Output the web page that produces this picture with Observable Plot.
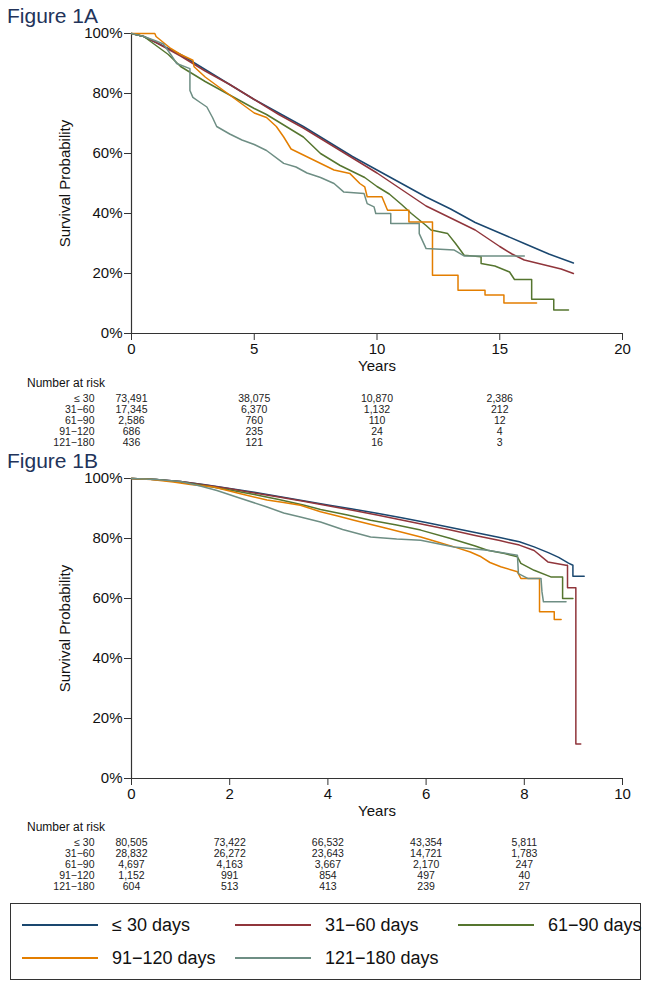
<!DOCTYPE html>
<html><head><meta charset="utf-8">
<script src="https://cdn.jsdelivr.net/npm/d3@7"></script>
<script src="https://cdn.jsdelivr.net/npm/@observablehq/plot@0.6"></script>
<style>
body{margin:0;background:#fff;font-family:"Liberation Sans",Arial,sans-serif;}
#root{position:relative;width:651px;height:989px;overflow:hidden;background:#fff;}
.abs{position:absolute;}
.title{font-size:21px;line-height:21px;color:#22335a;left:7px;white-space:nowrap;}
.nar{font-size:12px;line-height:12px;color:#111;left:27px;white-space:nowrap;}
.leg{position:absolute;display:flex;align-items:center;height:22px;font-size:18px;color:#111;white-space:nowrap;}
.leg svg{margin-right:14px;}
</style></head><body><div id="root"></div>
<script>
// ---------- data ----------
const groups = ["≤ 30 days", "31−60 days", "61−90 days", "91−120 days", "121−180 days"];
const riskLabels = ["≤ 30", "31−60", "61−90", "91−120", "121−180"];
const colors = ["#1a476f", "#90353b", "#55752f", "#e37e00", "#6e8e84"];
const yTicks = [0, 0.2, 0.4, 0.6, 0.8, 1];
const xTicksA = [0, 5, 10, 15, 20];
const xTicksB = [0, 2, 4, 6, 8, 10];

// Figure 1A survival curves [years, survival] (vertical drops given as repeated years)
const survA_le30 = [[0,1],[0.5,0.99],[1,0.97],[2,0.93],[3,0.88],[4,0.83],[5,0.78],[6,0.735],[7,0.69],[8,0.64],[9,0.59],[10,0.545],[11,0.5],[12,0.455],[13,0.415],[14,0.37],[15,0.335],[16,0.3],[17,0.265],[18,0.235]];
const survA_31_60 = [[0,1],[0.5,0.99],[1,0.97],[2,0.925],[3,0.875],[4,0.83],[5,0.78],[6,0.73],[7,0.685],[8,0.635],[9,0.585],[10,0.535],[11,0.48],[12,0.425],[13,0.385],[14,0.345],[15,0.29],[15.5,0.265],[16,0.245],[17,0.225],[17.5,0.215],[18,0.2]];
const survA_61_90 = [[0,1],[0.5,0.99],[1,0.96],[1.5,0.93],[2,0.89],[3,0.84],[4,0.795],[5,0.75],[5.5,0.73],[6,0.705],[7,0.655],[7.7,0.6],[8.5,0.56],[9,0.54],[9.5,0.52],[10,0.49],[10.5,0.465],[11,0.43],[11.4,0.4],[12,0.36],[12.2,0.345],[12.88,0.333],[13.2,0.3],[13.55,0.261],[14.24,0.256],[14.24,0.233],[14.8,0.225],[15.4,0.205],[15.6,0.18],[16.3,0.18],[16.3,0.114],[17.2,0.114],[17.2,0.078],[17.8,0.078]];
const survA_91_120 = [[0,1],[0.95,1],[1.0,0.99],[1.3,0.97],[1.6,0.95],[2,0.93],[2.5,0.911],[2.55,0.889],[3,0.855],[3.5,0.825],[4,0.795],[4.5,0.765],[5,0.735],[5.5,0.72],[5.9,0.69],[6.2,0.655],[6.5,0.615],[7,0.595],[7.5,0.575],[8,0.555],[8.25,0.545],[8.9,0.533],[9.3,0.5],[9.5,0.489],[9.6,0.456],[10.2,0.456],[10.43,0.411],[11.3,0.411],[11.3,0.372],[12.26,0.372],[12.26,0.194],[13.3,0.194],[13.3,0.144],[14.4,0.144],[14.4,0.128],[15.17,0.128],[15.17,0.102],[16.5,0.102]];
const survA_121_180 = [[0,1],[0.5,0.99],[1,0.975],[1.3,0.965],[1.6,0.93],[1.84,0.9],[2.38,0.883],[2.38,0.81],[2.5,0.787],[2.8,0.77],[3.07,0.755],[3.3,0.72],[3.47,0.69],[4,0.665],[4.5,0.645],[5,0.63],[5.5,0.61],[6.2,0.567],[6.7,0.555],[7.15,0.535],[7.7,0.52],[8.25,0.5],[8.64,0.472],[9.47,0.467],[9.6,0.433],[9.88,0.422],[9.95,0.4],[10.56,0.4],[10.56,0.367],[11.72,0.367],[11.72,0.333],[12.0,0.283],[13.15,0.278],[13.56,0.258],[16.0,0.258]];

// Figure 1B survival curves [years, survival]
const survB_le30 = [[0,1],[0.5,0.997],[1,0.99],[1.5,0.979],[2,0.967],[2.5,0.954],[3,0.94],[3.5,0.926],[4,0.912],[4.5,0.898],[5,0.884],[5.5,0.869],[6,0.853],[6.5,0.837],[7,0.82],[7.5,0.803],[7.9,0.789],[8.2,0.772],[8.5,0.752],[8.7,0.737],[8.9,0.718],[8.99,0.711],[8.99,0.674],[9.22,0.674]];
const survB_31_60 = [[0,1],[0.5,0.997],[1,0.99],[1.5,0.978],[2,0.966],[2.5,0.952],[3,0.938],[3.5,0.924],[4,0.909],[4.5,0.894],[5,0.878],[5.5,0.862],[6,0.845],[6.5,0.828],[7,0.81],[7.5,0.793],[7.9,0.778],[8.2,0.76],[8.48,0.722],[8.85,0.711],[8.88,0.711],[8.88,0.636],[9.05,0.636],[9.05,0.115],[9.15,0.115]];
const survB_61_90 = [[0,1],[0.5,0.997],[1,0.988],[1.5,0.976],[2,0.962],[2.5,0.947],[3,0.93],[3.5,0.912],[3.85,0.897],[4.4,0.878],[4.87,0.861],[5.4,0.845],[5.89,0.828],[6.5,0.8],[7,0.775],[7.25,0.761],[7.6,0.75],[7.86,0.739],[7.93,0.717],[8.2,0.694],[8.54,0.672],[8.78,0.672],[8.78,0.6],[8.99,0.6]];
const survB_91_120 = [[0,1],[0.4,0.997],[0.85,0.988],[1.2,0.98],[1.67,0.972],[2.2,0.95],[2.76,0.928],[3.1,0.92],[3.44,0.911],[3.85,0.889],[4.2,0.875],[4.53,0.861],[5.21,0.833],[5.89,0.805],[6.2,0.79],[6.57,0.772],[6.9,0.755],[7.12,0.739],[7.3,0.72],[7.52,0.706],[7.86,0.689],[7.93,0.667],[8.31,0.667],[8.31,0.556],[8.61,0.556],[8.61,0.53],[8.75,0.53]];
const survB_121_180 = [[0,1],[0.5,0.997],[1,0.99],[1.4,0.975],[1.74,0.96],[2.2,0.935],[2.76,0.905],[3.1,0.885],[3.44,0.872],[3.85,0.855],[4.3,0.83],[4.87,0.805],[5.4,0.798],[5.89,0.794],[6.57,0.772],[7.25,0.761],[7.86,0.744],[7.88,0.683],[8.07,0.667],[8.34,0.667],[8.36,0.622],[8.39,0.589],[8.85,0.589]];

// Number at risk
const riskTimesA = [0, 5, 10, 15];
const riskA_le30 = [73491, 38075, 10870, 2386];
const riskA_31_60 = [17345, 6370, 1132, 212];
const riskA_61_90 = [2586, 760, 110, 12];
const riskA_91_120 = [686, 235, 24, 4];
const riskA_121_180 = [436, 121, 16, 3];

const riskTimesB = [0, 2, 4, 6, 8];
const riskB_le30 = [80505, 73422, 66532, 43354, 5811];
const riskB_31_60 = [28832, 26272, 23643, 14721, 1783];
const riskB_61_90 = [4697, 4163, 3667, 2170, 247];
const riskB_91_120 = [1152, 991, 854, 497, 40];
const riskB_121_180 = [604, 513, 413, 239, 27];

// ---------- build ----------
const root = document.getElementById("root");
const FONT = '"Liberation Sans", Arial, sans-serif';
const NARROW = '"Liberation Sans Narrow", "Arial Narrow", "Liberation Sans", Arial, sans-serif';

function toRows(seriesList) {
  const out = [];
  seriesList.forEach((s, i) => s.forEach(([t, v]) => out.push({t, s: v, g: groups[i]})));
  return out;
}

function kmPlot(rows, xDomain, xTicks) {
  return Plot.plot({
    width: 651, height: 370,
    marginLeft: 131, marginRight: 29, marginTop: 33, marginBottom: 37,
    x: {domain: xDomain},
    y: {domain: [0, 1]},
    color: {domain: groups, range: colors},
    style: {fontFamily: FONT, fontSize: "15px", color: "#111", background: "transparent", overflow: "visible"},
    marks: [
      Plot.axisY(yTicks, {tickFormat: d => Math.round(d * 100) + "%", tickSize: 7, tickPadding: 2, fontSize: 15,
        label: "Survival Probability", labelAnchor: "center", labelArrow: "none", labelOffset: 72, stroke: "#333"}),
      Plot.axisX(xTicks, {tickSize: 7, tickPadding: 3, fontSize: 15,
        label: "Years", labelAnchor: "center", labelArrow: "none", labelOffset: 37, stroke: "#333"}),
      Plot.ruleX([xDomain[0]], {stroke: "#333", strokeWidth: 1.2}),
      Plot.ruleY([0], {stroke: "#333", strokeWidth: 1.2}),
      Plot.line(rows, {x: "t", y: "s", z: "g", stroke: "g", curve: "linear", strokeWidth: 1.5})
    ]
  });
}

function riskPlot(times, tables, xDomain) {
  const cells = [];
  tables.forEach((vals, i) => vals.forEach((v, j) => cells.push({t: times[j], row: riskLabels[i], v})));
  return Plot.plot({
    width: 651, height: 60,
    marginLeft: 131, marginRight: 29, marginTop: 0, marginBottom: 0,
    x: {domain: xDomain, axis: null},
    y: {type: "point", domain: riskLabels, range: [8, 52], padding: 0, axis: null},
    style: {fontFamily: NARROW, fontSize: "10.5px", color: "#222", background: "transparent", overflow: "visible"},
    marks: [
      Plot.text(riskLabels, {x: () => xDomain[0], y: d => d, text: d => d, textAnchor: "end", dx: -37, fill: "#222"}),
      Plot.text(cells, {x: "t", y: "row", text: d => d3.format(",")(d.v), fill: "#222"})
    ]
  });
}

function place(el, top, left = 0) {
  el.style.position = "absolute";
  el.style.top = top + "px";
  el.style.left = left + "px";
  root.appendChild(el);
  return el;
}
function div(cls, text, top) {
  const d = document.createElement("div");
  d.className = "abs " + cls;
  d.textContent = text;
  d.style.top = top + "px";
  root.appendChild(d);
  return d;
}

// Figure 1A
place(kmPlot(toRows([survA_le30, survA_31_60, survA_61_90, survA_91_120, survA_121_180]), [0, 20], xTicksA), 0);
div("title", "Figure 1A", 5);
div("nar", "Number at risk", 377);
place(riskPlot(riskTimesA, [riskA_le30, riskA_31_60, riskA_61_90, riskA_91_120, riskA_121_180], [0, 20]), 390);

// Figure 1B
place(kmPlot(toRows([survB_le30, survB_31_60, survB_61_90, survB_91_120, survB_121_180]), [0, 10], xTicksB), 445);
div("title", "Figure 1B", 450);
div("nar", "Number at risk", 821);
place(riskPlot(riskTimesB, [riskB_le30, riskB_31_60, riskB_61_90, riskB_91_120, riskB_121_180], [0, 10]), 834);

// Legend
const box = document.createElement("div");
box.style.cssText = "position:absolute;left:10px;top:903px;width:629px;height:75px;border:1px solid #333;";
root.appendChild(box);
const legPos = [[22, 914], [235, 914], [458, 914], [22, 947], [235, 947]];
groups.forEach((g, i) => {
  const it = document.createElement("div");
  it.className = "leg";
  it.style.left = legPos[i][0] + "px";
  it.style.top = legPos[i][1] + "px";
  it.innerHTML = `<svg width="76" height="4"><line x1="0" x2="76" y1="2" y2="2" stroke="${colors[i]}" stroke-width="2"/></svg><span></span>`;
  it.querySelector("span").textContent = g;
  root.appendChild(it);
});
</script></body></html>
